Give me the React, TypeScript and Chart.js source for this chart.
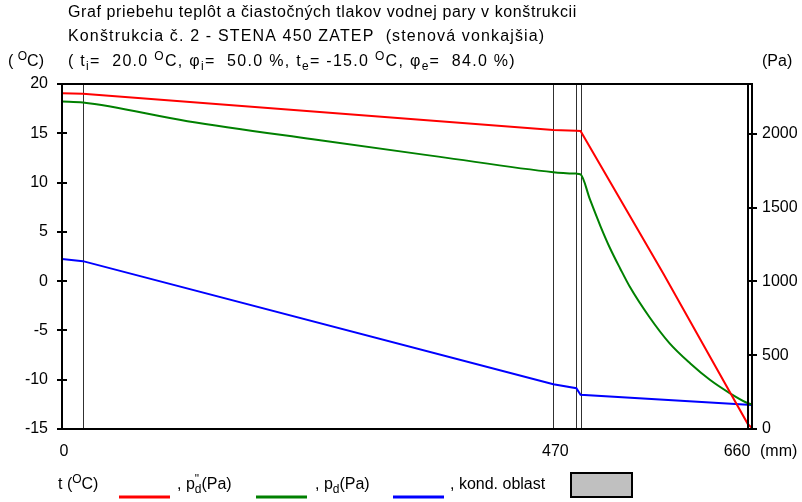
import React, { useEffect, useRef } from "react";
import { Chart, registerables } from "chart.js";

Chart.register(...registerables);

// ---- texts ----
const TITLE_1 = "Graf priebehu teplôt a čiastočných tlakov vodnej pary v konštrukcii";
const TITLE_2 = "Konštrukcia č. 2 - STENA 450 ZATEP  (stenová vonkajšia)";
const T_IN = "20.0";
const PHI_IN = "50.0";
const T_OUT = "-15.0";
const PHI_OUT = "84.0";

// ---- axes ----
const X_TICKS = [0, 470, 660];
const X_MAX = 660;
const T_MIN = -15;
const T_MAX = 20;
const T_STEP = 5;
const PA_TICKS = [0, 500, 1000, 1500, 2000];
const PA_MAX = 2337;
const LAYER_BOUNDS = [20, 470, 492, 496];
const OUTER_BOUND = 656;

// ---- series ----
const tempX = [0, 20, 470, 492, 496, 575, 656, 660];
const tempC = [19.07, 19.0, 15.33, 15.25, 15.23, 0.8, -14.5, -14.9];

const satX = [0, 20, 120, 240, 360, 470, 492, 496, 505, 515, 524, 534, 543, 562, 581, 601, 620, 639, 655, 660];
const satPa = [2218, 2211, 2085, 1962, 1845, 1740, 1730, 1725, 1555, 1375, 1228, 1086, 965, 757, 582, 444, 332, 242, 178, 165];

const vapX = [0, 20, 470, 492, 496, 660];
const vapPa = [1152, 1137, 303, 276, 232, 163];

const RED = "#ff0000";
const GREEN = "#008000";
const BLUE = "#0000ff";

const FONT = '"Liberation Sans", Arial, sans-serif';

type Part = [string, "" | "sub" | "sup" | "sup0"];

function rich(ctx: CanvasRenderingContext2D, x: number, y: number, parts: Part[], size: number) {
  let cx = x;
  for (const [t, k] of parts) {
    const s = k ? Math.round(size * 0.72) : size;
    ctx.font = `${s}px ${FONT}`;
    const dy = k === "sup" || k === "sup0" ? -size * 0.36 : k === "sub" ? size * 0.3 : 0;
    ctx.fillText(t, cx, y + dy);
    if (k !== "sup0") cx += ctx.measureText(t).width;
  }
  return cx;
}

const decor = {
  id: "decor",
  beforeDatasetsDraw(chart: any) {
    const ctx: CanvasRenderingContext2D = chart.ctx;
    const { top, bottom } = chart.chartArea;
    const xs = chart.scales.x;
    ctx.save();
    ctx.strokeStyle = "#303030";
    ctx.lineWidth = 1;
    for (const b of LAYER_BOUNDS) {
      const px = Math.round(xs.getPixelForValue(b)) + 0.5;
      ctx.beginPath();
      ctx.moveTo(px, top);
      ctx.lineTo(px, bottom);
      ctx.stroke();
    }
    ctx.restore();
  },
  afterDatasetsDraw(chart: any) {
    const ctx: CanvasRenderingContext2D = chart.ctx;
    const { left, right, top, bottom } = chart.chartArea;
    const xs = chart.scales.x;
    const ys = chart.scales.y;
    const y1 = chart.scales.y1;
    ctx.save();
    ctx.strokeStyle = "#000";
    ctx.lineWidth = 2;
    ctx.beginPath();
    ctx.moveTo(left, top);
    ctx.lineTo(right, top);
    ctx.moveTo(left, top - 1);
    ctx.lineTo(left, bottom + 1);
    ctx.moveTo(left - 5, bottom);
    ctx.lineTo(right + 5, bottom);
    ctx.moveTo(right, top - 1);
    ctx.lineTo(right, bottom + 1);
    const ob = Math.round(xs.getPixelForValue(OUTER_BOUND));
    ctx.moveTo(ob, top);
    ctx.lineTo(ob, bottom);
    ctx.stroke();
    ctx.beginPath();
    for (let v = T_MIN; v <= T_MAX; v += T_STEP) {
      const py = Math.round(ys.getPixelForValue(v));
      ctx.moveTo(left - 5, py);
      ctx.lineTo(left + 5, py);
    }
    for (const v of PA_TICKS) {
      const py = Math.round(y1.getPixelForValue(v));
      ctx.moveTo(right - 5, py);
      ctx.lineTo(right + 5, py);
    }
    ctx.stroke();
    ctx.restore();
  },
  afterDraw(chart: any) {
    const ctx: any = chart.ctx;
    const xs = chart.scales.x;
    const ds = chart.data.datasets;
    ctx.save();
    ctx.fillStyle = "#000";
    ctx.textBaseline = "middle";
    ctx.textAlign = "left";
    // titles
    ctx.font = `16px ${FONT}`;
    ctx.letterSpacing = "0.6px";
    ctx.fillText(TITLE_1, 68, 13);
    ctx.letterSpacing = "1.15px";
    ctx.fillText(TITLE_2, 68, 37);
    ctx.letterSpacing = "1.3px";
    rich(ctx, 68, 62, [
      ["( t", ""], ["i", "sub"], ["=  " + T_IN + " ", ""], ["O", "sup"], ["C, φ", ""], ["i", "sub"],
      ["=  " + PHI_IN + " %, t", ""], ["e", "sub"], ["= " + T_OUT + " ", ""], ["O", "sup"], ["C, φ", ""], ["e", "sub"],
      ["=  " + PHI_OUT + " %)", ""],
    ], 16);
    ctx.letterSpacing = "0px";
    rich(ctx, 8, 62, [["( ", ""], ["O", "sup"], ["C)", ""]], 16);
    ctx.font = `16px ${FONT}`;
    ctx.fillText("(Pa)", 762, 62);
    // x labels
    ctx.font = `16px ${FONT}`;
    ctx.textAlign = "center";
    for (const v of X_TICKS) {
      const px = xs.getPixelForValue(v);
      ctx.fillText(String(v), v === X_MAX ? px - 15 : px + 2, 452);
    }
    ctx.textAlign = "left";
    ctx.fillText("(mm)", 760, 452);
    // legend
    const ly = 485;
    rich(ctx, 58, ly, [["t (", ""], ["O", "sup"], ["C)", ""]], 16);
    const seg = (x0: number, color: string) => {
      ctx.strokeStyle = color;
      ctx.lineWidth = 3;
      ctx.beginPath();
      ctx.moveTo(x0, 497);
      ctx.lineTo(x0 + 51, 497);
      ctx.stroke();
    };
    seg(119, ds[0].borderColor);
    rich(ctx, 177, ly, [[", p", ""], ["\"", "sup0"], ["d", "sub"], ["(Pa)", ""]], 16);
    seg(256, ds[1].borderColor);
    rich(ctx, 315, ly, [[", p", ""], ["d", "sub"], ["(Pa)", ""]], 16);
    seg(393, ds[2].borderColor);
    ctx.font = `16px ${FONT}`;
    ctx.fillText(", kond. oblast", 450, ly);
    ctx.fillStyle = "#c0c0c0";
    ctx.fillRect(571, 473, 61, 24);
    ctx.strokeStyle = "#000";
    ctx.lineWidth = 2;
    ctx.strokeRect(571, 473, 61, 24);
    ctx.restore();
  },
};

export default function App() {
  const ref = useRef<HTMLCanvasElement>(null);
  useEffect(() => {
    const canvas = ref.current!;
    const mk = (xs: number[], ys: number[]) => xs.map((x, i) => ({ x, y: ys[i] }));
    const chart = new Chart(canvas, {
      type: "line",
      data: {
        datasets: [
          { label: "t", data: mk(tempX, tempC), borderColor: RED, yAxisID: "y", borderWidth: 2, pointRadius: 0, tension: 0 },
          { label: "p''d", data: mk(satX, satPa), borderColor: GREEN, yAxisID: "y1", borderWidth: 2, pointRadius: 0, cubicInterpolationMode: "monotone" },
          { label: "pd", data: mk(vapX, vapPa), borderColor: BLUE, yAxisID: "y1", borderWidth: 2, pointRadius: 0, tension: 0 },
        ],
      },
      options: {
        animation: false,
        responsive: false,
        layout: { padding: { top: 84, left: 0, right: 0, bottom: 0 } },
        plugins: { legend: { display: false }, tooltip: { enabled: false }, title: { display: false } },
        scales: {
          x: {
            type: "linear",
            min: 0,
            max: X_MAX,
            ticks: { display: false },
            grid: { display: false, drawTicks: false },
            border: { display: false },
            afterFit: (s: any) => { s.height = 73; },
          },
          y: {
            position: "left",
            min: T_MIN,
            max: T_MAX,
            ticks: { stepSize: T_STEP, color: "#000", font: { size: 16, family: FONT }, padding: 14 },
            grid: { display: false, drawTicks: false },
            border: { display: false },
            afterFit: (s: any) => { s.width = 62; },
          },
          y1: {
            position: "right",
            min: 0,
            max: PA_MAX,
            afterBuildTicks: (s: any) => { s.ticks = PA_TICKS.map((v) => ({ value: v })); },
            ticks: { color: "#000", font: { size: 16, family: FONT }, padding: 10, callback: (v: any) => String(v) },
            grid: { display: false, drawTicks: false },
            border: { display: false },
            afterFit: (s: any) => { s.width = 50; },
          },
        },
      },
      plugins: [decor],
    } as any);
    return () => chart.destroy();
  }, []);
  return (
    <div style={{ position: "fixed", left: 0, top: 0, width: 802, height: 502, background: "#fff" }}>
      <canvas ref={ref} width={802} height={502} style={{ display: "block" }} />
    </div>
  );
}
